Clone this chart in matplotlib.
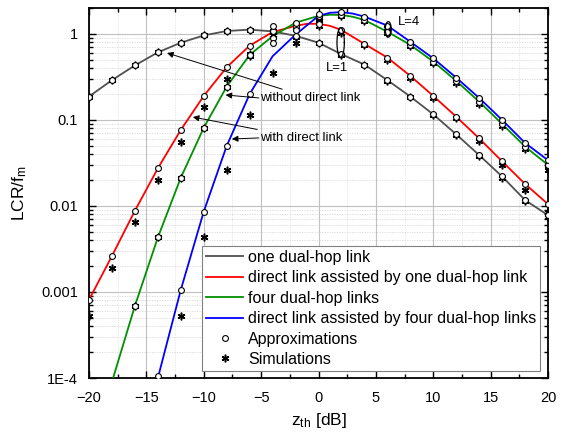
import numpy as np
import matplotlib
matplotlib.use("Agg")
import matplotlib.pyplot as plt
from matplotlib.ticker import FixedLocator, FixedFormatter, LogLocator, NullFormatter, MultipleLocator
from matplotlib.lines import Line2D

plt.rcParams['font.family'] = ['Liberation Sans', 'DejaVu Sans']
plt.rcParams['mathtext.fontset'] = 'custom'
plt.rcParams['mathtext.rm'] = 'Liberation Sans'
plt.rcParams['mathtext.it'] = 'Liberation Sans:italic'
plt.rcParams['mathtext.default'] = 'regular'

# ---------------- data ----------------
z_pts = [-20, -18, -16, -14, -12, -10, -8, -6, -4, -2, 0, 2, 4, 6, 8, 10, 12, 14, 16, 18, 20]

# one dual-hop link (line, approximations and simulations coincide)
gray_line = [0.187, 0.29, 0.43, 0.61, 0.79, 0.96, 1.08, 1.12, 1.07, 0.95, 0.79, 0.58, 0.44, 0.29,
             0.187, 0.116, 0.068, 0.039, 0.022, 0.0117, 0.0078]
gray_approx = gray_line
gray_sim = [0.187, 0.29, 0.43, 0.61, 0.79, 0.96, 1.08, 1.12, 1.08, 0.92, 0.78, 0.57, 0.43, 0.28,
            0.183, 0.113, 0.066, 0.038, 0.021, 0.0113, 0.0075]

# direct link assisted by one dual-hop link
red_z = [-20, -18, -16, -14, -12, -10, -8, -6, -4, -2, -1, 0, 1, 2, 4, 6, 8, 10, 12, 14, 16, 18, 20]
red_line = [0.00081, 0.00262, 0.0088, 0.0274, 0.0765, 0.19, 0.41, 0.73, 1.05, 1.24, 1.31, 1.31, 1.24,
            1.11, 0.765, 0.53, 0.325, 0.19, 0.109, 0.061, 0.033, 0.018, 0.0105]
red_approx = [0.00081, 0.00262, 0.0088, 0.0274, 0.0765, 0.19, 0.41, 0.73, 1.25, 1.24, 1.31, 1.11,
              0.765, 0.53, 0.325, 0.19, 0.109, 0.061, 0.033, 0.018, 0.0105]
red_sim = [0.00052, 0.00192, 0.0065, 0.020, 0.056, 0.14, 0.30, 0.58, 0.98, 1.15, 1.22, 1.03, 0.74,
           0.50, 0.31, 0.18, 0.104, 0.057, 0.030, 0.0155, 0.0085]

# four dual-hop links
green_z = [-17.9, -16, -14, -12, -10, -8, -6, -4, -2, 0, 1, 2, 3, 4, 6, 8, 10, 12, 14, 16, 18, 20]
green_line = [1.0e-4, 0.00069, 0.0043, 0.0213, 0.081, 0.244, 0.57, 0.94, 1.35, 1.62, 1.67, 1.66, 1.58,
              1.45, 1.06, 0.745, 0.477, 0.284, 0.163, 0.0898, 0.049, 0.030]
green_pz = [-16, -14, -12, -10, -8, -6, -4, -2, 0, 2, 4, 6, 8, 10, 12, 14, 16, 18, 20]
green_approx = [0.00069, 0.0043, 0.0213, 0.081, 0.244, 0.57, 0.90, 1.35, 1.62, 1.66, 1.45, 1.06,
                0.745, 0.477, 0.284, 0.163, 0.0898, 0.049, 0.030]
green_sim = [0.00069, 0.0043, 0.0213, 0.081, 0.244, 0.56, 0.97, 1.30, 1.55, 1.60, 1.40, 1.02,
             0.72, 0.46, 0.27, 0.155, 0.085, 0.046, 0.026]

# direct link assisted by four dual-hop links
blue_z = [-14, -12, -10, -8, -6, -4, -2, 0, 1, 2, 3, 4, 6, 8, 10, 12, 14, 16, 18, 20]
blue_line = [1.0e-4, 0.00106, 0.0086, 0.0499, 0.20, 0.55, 0.98, 1.62, 1.76, 1.79, 1.72, 1.59, 1.25,
             0.81, 0.52, 0.31, 0.18, 0.10, 0.054, 0.034]
blue_pz = [-14, -12, -10, -8, -6, -4, -2, 0, 2, 4, 6, 8, 10, 12, 14, 16, 18, 20]
blue_approx = [1.05e-4, 0.00106, 0.0086, 0.0499, 0.20, 0.79, 1.1, 1.69, 1.79, 1.59, 1.25, 0.81,
               0.52, 0.31, 0.18, 0.10, 0.054, 0.034]
blue_sim_z = [-12, -10, -8, -6, -4, -2, 0, 2, 4, 6, 8, 10, 12, 14, 16, 18, 20]
blue_sim = [0.00053, 0.0044, 0.026, 0.114, 0.35, 0.79, 1.45, 1.70, 1.55, 1.18, 0.78, 0.50, 0.30,
            0.17, 0.095, 0.051, 0.030]

legend_labels = ["one dual-hop link", "direct link assisted by one dual-hop link",
                 "four dual-hop links", "direct link assisted by four dual-hop links",
                 "Approximations", "Simulations"]
y_ticks = [1e-4, 1e-3, 1e-2, 1e-1, 1]
y_tick_labels = ["1E-4", "0.001", "0.01", "0.1", "1"]
x_ticks = [-20, -15, -10, -5, 0, 5, 10, 15, 20]

c_gray, c_red, c_green, c_blue = '#505050', '#ff0000', '#009000', '#0000ff'

# ---------------- figure ----------------
fig = plt.figure(figsize=(5.68, 4.37), dpi=100)
ax = fig.add_axes([0.1567, 0.135, 0.8081, 0.8467])
ax.set_yscale('log')
ax.set_xlim(-20, 20)
ax.set_ylim(1e-4, 2.0)

lw = 1.3
ax.plot(z_pts, gray_line, color=c_gray, lw=lw, zorder=3)
ax.plot(red_z, red_line, color=c_red, lw=lw, zorder=3)
ax.plot(green_z, green_line, color=c_green, lw=lw, zorder=3)
ax.plot(blue_z, blue_line, color=c_blue, lw=lw, zorder=3)

star = (6, 2, 0)
sim_kw = dict(ls='none', marker=star, ms=5.5, mec='black', mew=1.1, zorder=4)
app_kw = dict(ls='none', marker='o', ms=4.2, mfc='white', mec='black', mew=0.8, zorder=5)

ax.plot(z_pts, gray_sim, **sim_kw)
ax.plot(z_pts, red_sim, **sim_kw)
ax.plot(green_pz, green_sim, **sim_kw)
ax.plot(blue_sim_z, blue_sim, **sim_kw)

ax.plot(z_pts, gray_approx, **app_kw)
ax.plot(z_pts, red_approx, **app_kw)
ax.plot(green_pz, green_approx, **app_kw)
ax.plot(blue_pz, blue_approx, **app_kw)

# ticks and grid
ax.set_xticks(x_ticks)
ax.xaxis.set_minor_locator(MultipleLocator(2.5))
ax.yaxis.set_major_locator(FixedLocator(y_ticks))
ax.yaxis.set_major_formatter(FixedFormatter(y_tick_labels))
ax.yaxis.set_minor_locator(LogLocator(base=10, subs=np.arange(2, 10), numticks=20))
ax.yaxis.set_minor_formatter(NullFormatter())
ax.tick_params(which='both', direction='in', top=True, right=True, labelsize=10.5, width=1.0)
ax.tick_params(which='major', length=5)
ax.tick_params(which='minor', length=3)
ax.tick_params(axis='x', pad=9)
ax.tick_params(axis='y', pad=8)
ax.grid(which='major', color='#c0c0c0', lw=0.8, ls='-', zorder=0)
ax.grid(which='minor', axis='y', color='#d8d8d8', lw=0.6, ls=(0, (1.5, 1.5)), zorder=0)
ax.grid(which='minor', axis='x', color='#e2e2e2', lw=0.6, ls=(0, (1.5, 1.5)), zorder=0)
for s in ax.spines.values():
    s.set_linewidth(1.3)

ax.set_xlabel(r"z$_{th}$ [dB]", fontsize=12.5, labelpad=5)
ax.set_ylabel(r"LCR/f$_{m}$", fontsize=12.5, labelpad=9)

# annotations
ak = dict(arrowstyle='-|>', color='black', lw=0.7, mutation_scale=9, shrinkA=0, shrinkB=0)
fs_ann = 9.4
ax.annotate("without direct link", xy=(-13.2, 0.60), xytext=(-5.1, 0.18), fontsize=fs_ann,
            va='center', ha='left', arrowprops=ak, zorder=6)
ax.annotate("", xy=(-8.1, 0.195), xytext=(-5.2, 0.18), arrowprops=ak, zorder=6)
ax.annotate("with direct link", xy=(-10.95, 0.108), xytext=(-5.1, 0.0618), fontsize=fs_ann,
            va='center', ha='left', arrowprops=ak, zorder=6)
ax.annotate("", xy=(-7.55, 0.060), xytext=(-5.2, 0.0618), arrowprops=ak, zorder=6)

# ellipses around groups
t = np.linspace(0, 2 * np.pi, 100)
for xc, lc, hx, hl in [(1.93, -0.10, 0.32, 0.172), (6.08, 0.0525, 0.26, 0.09)]:
    ax.plot(xc + hx * np.cos(t), 10 ** (lc + hl * np.sin(t)), color='black', lw=0.9, zorder=7)
ax.text(1.58, 0.40, "L=1", fontsize=fs_ann, ha='center', va='center')
ax.text(6.9, 1.39, "L=4", fontsize=fs_ann, ha='left', va='center')

# legend
handles = [Line2D([], [], color=c_gray, lw=lw), Line2D([], [], color=c_red, lw=lw),
           Line2D([], [], color=c_green, lw=lw), Line2D([], [], color=c_blue, lw=lw),
           Line2D([], [], **app_kw), Line2D([], [], **sim_kw)]
leg = ax.legend(handles, legend_labels, loc='lower right', bbox_to_anchor=(0.983, 0.019),
                borderaxespad=0, fontsize=11.5, handlelength=2.3, handletextpad=0.3,
                labelspacing=0.34, borderpad=0.25, fancybox=False, framealpha=1,
                edgecolor='#808080')
leg.get_frame().set_linewidth(0.8)
leg.set_zorder(10)

fig.savefig("out.png", dpi=100)
